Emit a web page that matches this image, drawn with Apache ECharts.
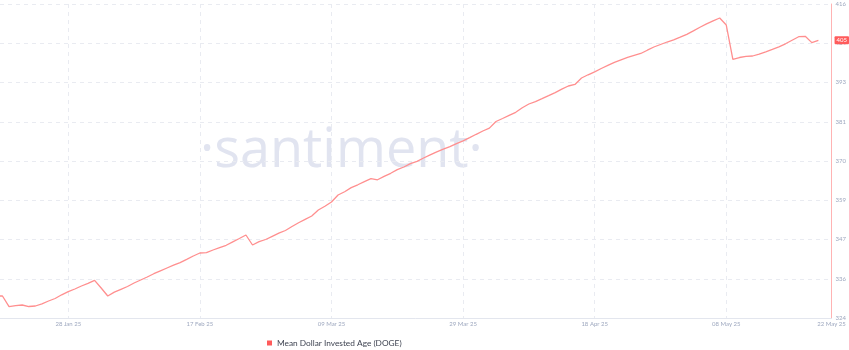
<!DOCTYPE html>
<html>
<head>
<meta charset="utf-8">
<script src="https://cdn.jsdelivr.net/npm/echarts@6/dist/echarts.min.js"></script>
<style>
  html, body { margin: 0; padding: 0; background: #ffffff; }
  #chart { width: 849px; height: 350px; }
</style>
</head>
<body>
<div id="chart"></div>
<script>
// ---- Data ----
const seriesName = 'Mean Dollar Invested Age (DOGE)';
const startDate = [2025, 0, 17]; // first daily point (UTC), 17 Jan 2025
const values = [
  330.62, 330.62, 327.50, 327.79, 327.99, 327.55, 327.70, 328.34, 329.16, 329.89,
  330.97, 331.87, 332.66, 333.53, 334.29, 335.17, 332.95, 330.62, 331.73, 332.57,
  333.39, 334.41, 335.29, 336.16, 337.12, 337.97, 338.79, 339.60, 340.36, 341.32,
  342.29, 343.16, 343.25, 344.04, 344.74, 345.41, 346.40, 347.39, 348.41, 345.50,
  346.46, 347.10, 348.03, 348.94, 349.73, 350.89, 352.00, 352.99, 353.96, 355.71,
  356.81, 358.04, 360.08, 361.04, 362.24, 363.06, 363.99, 364.84, 364.52, 365.51,
  366.41, 367.49, 368.25, 369.24, 369.91, 370.88, 371.81, 372.68, 373.44, 374.20,
  375.05, 375.89, 376.80, 377.79, 378.75, 379.60, 381.52, 382.40, 383.30, 384.21,
  385.52, 386.63, 387.33, 388.17, 389.05, 389.95, 390.95, 391.88, 392.32, 394.21,
  395.15, 396.02, 396.98, 397.89, 398.79, 399.52, 400.22, 400.81, 401.36, 402.32,
  403.26, 403.99, 404.71, 405.33, 406.12, 406.96, 407.95, 409.03, 410.00, 410.90,
  411.72, 409.67, 399.67, 400.19, 400.51, 400.63, 401.21, 401.86, 402.56, 403.29,
  404.19, 405.24, 406.26, 406.38, 404.54, 405.21
];
const xTickDates = ['2025-01-28', '2025-02-17', '2025-03-09', '2025-03-29', '2025-04-18', '2025-05-08'];
const xTickLabels = ['28 Jan 25', '17 Feb 25', '09 Mar 25', '29 Mar 25', '18 Apr 25', '08 May 25'];
const lastDateLabel = '22 May 25';
const xAxisStart = '2025-01-17T15:00:00Z';
const xAxisEnd = '2025-05-24T00:00:00Z';
const yMin = 324.2;
const yMax = 415.8;
const yInterval = 11.45;

// ---- Build ----
const DAY = 86400000;
const t0 = Date.UTC(startDate[0], startDate[1], startDate[2]);
const dates = values.map((_, i) => t0 + i * DAY);
const lineData = values.map((v, i) => [dates[i], v]);
const tMin = Date.parse(xAxisStart);
const tMax = Date.parse(xAxisEnd);
const tickTimes = xTickDates.map(d => Date.parse(d + 'T00:00:00Z'));
const labelMap = {};
tickTimes.forEach((t, i) => { labelMap[t] = xTickLabels[i]; });
labelMap[tMax] = lastDateLabel;
const lastValue = values[values.length - 1];

const lineColor = '#ff8f8f';
const gridColor = '#e9ebf1';
const labelColor = '#9ea8bf';

const chart = echarts.init(document.getElementById('chart'), null, { renderer: 'canvas' });
chart.setOption({
  animation: false,
  backgroundColor: '#ffffff',
  grid: { left: 0, right: 17, top: 4, bottom: 32, containLabel: false },
  graphic: [{
    type: 'text',
    left: 200,
    top: 125,
    silent: true,
    z: -10,
    style: {
      text: '·santiment·',
      fontFamily: 'Open Sans',
      fontSize: 54,
      fill: '#e1e4f0'
    }
  }],
  legend: {
    data: [seriesName],
    left: 267,
    top: 339,
    padding: 0,
    icon: 'rect',
    itemWidth: 5,
    itemHeight: 5,
    textStyle: { fontFamily: 'Lato', fontSize: 8.3, color: '#3f4452' },
    itemStyle: { color: '#ff5b5b' }
  },
  xAxis: {
    type: 'value',
    min: tMin,
    max: tMax,
    axisLine: { show: true, lineStyle: { color: '#e3e6ee', width: 1 } },
    axisTick: { show: false, customValues: tickTimes },
    axisLabel: {
      customValues: tickTimes.concat([tMax]),
      formatter: v => labelMap[v] || '',
      fontFamily: 'Lato',
      fontSize: 6,
      color: labelColor,
      margin: 3
    },
    splitLine: { show: true, lineStyle: { color: gridColor, type: [4, 4], width: 1 } }
  },
  yAxis: {
    type: 'value',
    position: 'right',
    min: yMin,
    max: yMax,
    interval: yInterval,
    axisLine: { show: true, lineStyle: { color: '#ffb3b3', width: 1 } },
    axisTick: { show: false },
    axisLabel: {
      formatter: v => String(Math.round(v)),
      fontFamily: 'Lato',
      fontSize: 6,
      color: labelColor,
      margin: 4
    },
    splitLine: { show: true, lineStyle: { color: gridColor, type: [4, 4], width: 1 } }
  },
  series: [{
    name: seriesName,
    type: 'line',
    data: lineData,
    showSymbol: false,
    symbol: 'none',
    clip: true,
    lineStyle: { color: lineColor, width: 1.3 },
    itemStyle: { color: '#ff5b5b' },
    markLine: {
      silent: true,
      symbol: 'none',
      data: [{ yAxis: lastValue }],
      lineStyle: { color: 'rgba(0,0,0,0)', width: 0 },
      label: {
        show: true,
        position: 'end',
        distance: 3,
        formatter: () => String(Math.round(lastValue)),
        backgroundColor: '#ff5b5b',
        color: '#ffffff',
        fontFamily: 'Lato',
        fontSize: 6,
        padding: [1, 2, 1, 2],
        borderRadius: 1
      }
    }
  }]
});
</script>
</body>
</html>
